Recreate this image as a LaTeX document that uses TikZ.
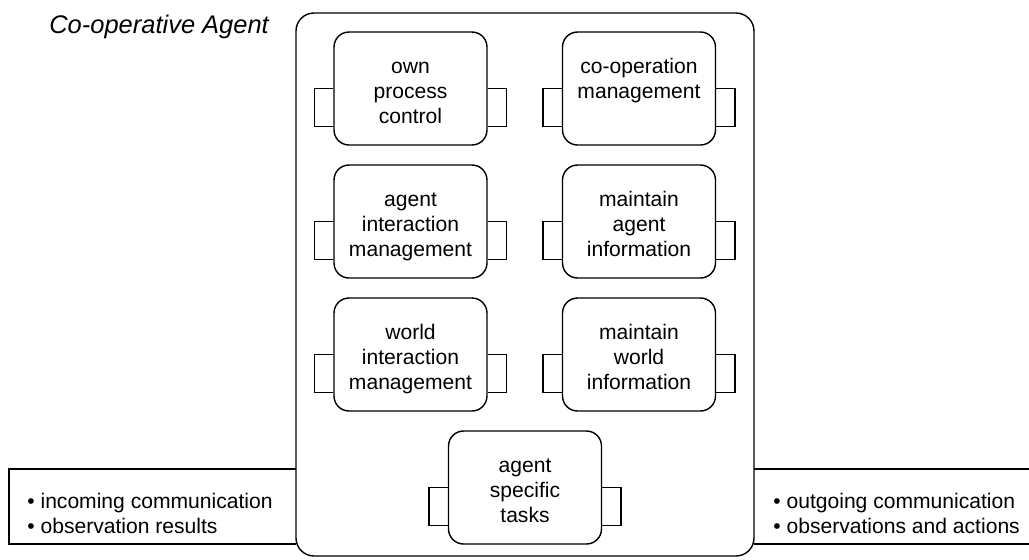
\documentclass[tikz,border=0pt]{standalone}
\usepackage{fontspec}
\setmainfont{Liberation Sans}
\usetikzlibrary{positioning,calc}

\tikzstyle{module} = [draw, line width=0.8pt, rounded corners=0.3cm,
  minimum width=3.06cm, minimum height=2.26cm, inner sep=0pt]
\tikzstyle{modtext} = [anchor=north, align=center, inner sep=0pt,
  font=\fontsize{12}{14.2}\selectfont]
\tikzstyle{listtext} = [anchor=north west, align=left, inner sep=0pt,
  font=\fontsize{12}{14.2}\selectfont]
\tikzstyle{porttab} = [line width=0.8pt]

% the two small port tabs on the sides of a module
\newcommand{\porttabs}[1]{%
  \draw[porttab] (#1.west) -- ++(-19,0) -- ++(0,38) -- ++(19,0);
  \draw[porttab] (#1.east) -- ++(19,0) -- ++(0,38) -- ++(-19,0);
}

\begin{document}
\begin{tikzpicture}[x=0.02cm, y=-0.02cm]
  \useasboundingbox (0,0) rectangle (1029,559);

  % agent frame
  \draw[line width=0.8pt, rounded corners=0.36cm] (296,13) rectangle (754,556);
  \node[anchor=base west, inner sep=0pt, font=\fontsize{14.5}{17}\selectfont\itshape]
    (title) at (49,33) {Co-operative Agent};

  % modules
  \foreach \name/\x/\y/\txt in {
    own/410.5/88.5/{own\\process\\control},
    coop/639/88.5/{co-operation\\management},
    agentint/410.5/221.5/{agent\\interaction\\management},
    agentinfo/639/221.5/{maintain\\agent\\information},
    worldint/410.5/354.5/{world\\interaction\\management},
    worldinfo/639/354.5/{maintain\\world\\information},
    tasks/525/487.5/{agent\\specific\\tasks}} {
    \node[module] (\name) at (\x,\y) {};
    \node[modtext] (\name-t) at ([yshift=-0.49cm]\name.north) {\strut\txt};
    \porttabs{\name}
  }

  % input side
  \draw[line width=0.8pt] (296,469) -- (9,469) -- (9,544) -- (296,544);
  \node[listtext] (input) at (27,490.5)
    {\strut\textbullet\ incoming communication\\\textbullet\ observation results};

  % output side
  \draw[line width=0.8pt] (754,469) -- (1029,469);
  \draw[line width=0.8pt] (754,544) -- (1029,544);
  \node[listtext] (output) at (773,490.5)
    {\strut\textbullet\ outgoing communication\\\textbullet\ observations and actions};
\end{tikzpicture}
\end{document}
